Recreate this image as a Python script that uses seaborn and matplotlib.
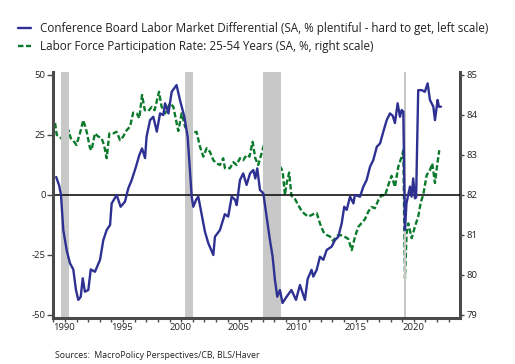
import matplotlib
matplotlib.use("Agg")
import matplotlib.pyplot as plt
from matplotlib.lines import Line2D
import seaborn as sns
import pandas as pd

# Conference Board labor market differential (left scale)
diff_year = [1990.25, 1990.5, 1990.66, 1990.86, 1991.15, 1991.43, 1991.72, 1991.95, 1992.15, 1992.36,
             1992.53, 1992.72, 1993.01, 1993.22, 1993.58, 1994.02, 1994.3, 1994.59, 1994.88, 1995.02,
             1995.45, 1995.79, 1996.16, 1996.45, 1996.74, 1997.11, 1997.4, 1997.63, 1997.89, 1998.02,
             1998.32, 1998.6, 1998.9, 1999.18, 1999.46, 1999.61, 1999.9, 2000.18, 2000.6, 2000.89,
             2001.27, 2001.55, 2001.75, 2001.9, 2002.04, 2002.28, 2002.47, 2002.77, 2003.04, 2003.33,
             2003.76, 2003.9, 2004.33, 2004.75, 2005.04, 2005.34, 2005.63, 2005.77, 2006.05, 2006.33,
             2006.62, 2006.92, 2007.2, 2007.37, 2007.54, 2007.77, 2008.06, 2008.34, 2008.63, 2008.86,
             2009.06, 2009.26, 2009.49, 2009.71, 2010.06, 2010.48, 2010.87, 2011.21, 2011.64, 2011.87,
             2012.21, 2012.36, 2012.65, 2012.93, 2013.22, 2013.51, 2013.94, 2014.22, 2014.51, 2014.8,
             2015.02, 2015.23, 2015.52, 2015.81, 2015.93, 2016.38, 2016.66, 2016.94, 2017.24, 2017.52,
             2017.82, 2018.1, 2018.38, 2018.67, 2018.95, 2019.19, 2019.38, 2019.61, 2019.81, 2019.96,
             2020.1, 2020.24, 2020.37, 2020.67, 2020.81, 2020.95, 2021.1, 2021.2, 2021.38, 2021.68,
             2021.95, 2022.19, 2022.39, 2022.68, 2022.82, 2023.05, 2023.16, 2023.34]
diff_val = [7.5, 4, 0, -14.6, -23, -28.4, -31, -39.6, -43.7, -42.4,
            -34.7, -40.3, -39.6, -31, -32, -27, -18.8, -14.6, -12.5, -3.5,
            0, -4.9, -2.8, 2.8, 6.2, 11.8, 16.7, 19.4, 15.4, 24.3,
            31.2, 32.6, 26.4, 34, 33.3, 38.2, 34, 43, 45.8, 39.6,
            32.6, 24.3, 10.4, -0.7, -4.9, -2, -0.7, -8.3, -15.3, -20.1,
            -25, -17.4, -14.6, -8, -9, -0.7, -2, -4.2, 6.2, 9,
            4.2, 9, 10.4, 6.9, 11.1, 2.1, 0.7, -9, -18.8, -25.7,
            -35.4, -42.4, -39.6, -45, -42.4, -39.6, -43.7, -37.5, -43.7, -35,
            -31.2, -34, -31.2, -25.7, -27, -22.9, -21.5, -18.8, -17.4, -11.8,
            -4.9, -6.2, -0.7, -3.5, 0, -0.7, 3.5, 6.2, 11.8, 14.6,
            20.1, 21.5, 26.4, 31.2, 34, 33, 30, 38.2, 32.6, 35.4,
            34.7, -14.6, -3.5, 3.5, -0.7, 6.9, -1.4, -1, 43.7, 43.7,
            43, 46.5, 39.6, 36.8, 31.2, 39.6, 36.8, 36.8]

# Prime-age labor force participation rate (right scale)
lfpr_year = [1990.15, 1990.3, 1990.57, 1990.8, 1991.1, 1991.3, 1991.5, 1991.69, 1991.99, 1992.29,
             1992.58, 1992.87, 1993.16, 1993.29, 1993.58, 1993.87, 1994.15, 1994.36, 1994.59, 1994.82,
             1995.15, 1995.45, 1995.74, 1996.01, 1996.31, 1996.6, 1996.87, 1997.17, 1997.4, 1997.63,
             1997.87, 1998.17, 1998.46, 1998.71, 1999.09, 1999.31, 1999.61, 2000.03, 2000.32, 2000.61,
             2000.75, 2001.04, 2001.33, 2001.6, 2002.04, 2002.32, 2002.61, 2002.9, 2003.19, 2003.47,
             2003.76, 2004.04, 2004.33, 2004.61, 2004.76, 2005.19, 2005.48, 2005.76, 2006.05, 2006.33,
             2006.62, 2006.87, 2007.14, 2007.37, 2007.62, 2007.91, 2008.11, 2008.38, 2008.63, 2008.92,
             2009.2, 2009.49, 2009.72, 2009.92, 2010.07, 2010.28, 2010.48, 2010.78, 2011.06, 2011.35,
             2011.64, 2011.93, 2012.36, 2012.65, 2012.93, 2013.22, 2013.51, 2013.8, 2014.07, 2014.37,
             2014.64, 2014.93, 2015.37, 2015.66, 2015.94, 2016.22, 2016.52, 2016.81, 2017.08, 2017.36,
             2017.66, 2017.95, 2018.25, 2018.52, 2018.81, 2019.09, 2019.38, 2019.67, 2019.96, 2020.1,
             2020.24, 2020.38, 2020.53, 2020.82, 2021.1, 2021.38, 2021.61, 2021.81, 2022.11, 2022.39,
             2022.59, 2022.82, 2022.99, 2023.19]
lfpr_val = [83.8, 83.5, 83.46, 83.37, 83.21, 83.62, 83.42, 83.37, 83.25, 83.54,
            83.87, 83.58, 83.17, 83.12, 83.54, 83.46, 83.42, 83.25, 82.92, 83.54,
            83.54, 83.58, 83.37, 83.46, 83.62, 83.71, 84.06, 84.04, 83.92, 84.5,
            84.12, 84.1, 84.2, 84.12, 84.58, 84.21, 84.04, 84.29, 84.21, 83.79,
            83.6, 84.04, 83.71, 83.55, 83.56, 83.58, 83.21, 82.96, 83.17, 83.08,
            82.87, 82.79, 82.75, 82.92, 82.67, 82.67, 82.82, 82.75, 82.92, 82.87,
            83.0, 82.96, 83.33, 82.92, 82.75, 83.04, 83.25, 83.2, 83.1, 82.95,
            82.85, 82.72, 82.6, 82.0, 82.3, 82.56, 81.98, 81.9, 81.75, 81.6,
            81.52, 81.46, 81.52, 81.55, 81.29, 81.08, 81.0, 80.96, 80.85, 80.98,
            81.0, 80.98, 80.9, 80.62, 80.95, 81.2, 81.3, 81.4, 81.58, 81.7,
            81.67, 81.87, 82.0, 81.98, 82.25, 82.48, 82.2, 82.71, 82.96, 83.12,
            79.92, 81.04, 81.29, 80.92, 81.21, 81.46, 81.83, 82.0, 82.5, 82.62,
            82.79, 82.3, 82.7, 83.12]

rec_start = [1990.66, 2001.32, 2008.03, 2020.13]
rec_end = [1991.35, 2001.98, 2009.55, 2020.3]

left_ticks = [-50, -25, 0, 25, 50]
right_ticks = [79, 80, 81, 82, 83, 84, 85]
year_labels = [1990, 1995, 2000, 2005, 2010, 2015, 2020]

label_diff = "Conference Board Labor Market Differential (SA, % plentiful - hard to get, left scale)"
label_lfpr = "Labor Force Participation Rate: 25-54 Years (SA, %, right scale)"

blue = "#2e3192"
green = "#0b7a2c"
spine_col = "#4a4a4a"
text_col = "#222222"

sns.set_style("white")
plt.rcParams["font.family"] = ["Open Sans", "DejaVu Sans"]

diff = pd.DataFrame({"year": diff_year, "value": diff_val})
lfpr = pd.DataFrame({"year": lfpr_year, "value": lfpr_val})

fig = plt.figure(figsize=(5.15, 3.64), dpi=100)
ax = fig.add_axes([0.1035, 0.1264, 0.7903, 0.6758])
ax2 = ax.twinx()

for s, e in zip(rec_start, rec_end):
    ax.axvspan(s, e, color="#c8c8c8", lw=0, zorder=0)
ax.axhline(0, color="black", lw=1.1, zorder=1)

sns.lineplot(data=diff, x="year", y="value", ax=ax, color=blue, lw=1.7, zorder=3)
sns.lineplot(data=lfpr, x="year", y="value", ax=ax2, color=green, lw=1.7,
             linestyle=(0, (2.3, 1.1)), zorder=2)

ax.set_xlim(1990, 2025)
ax.set_ylim(-51.25, 51.25)
ax2.set_ylim(78.925, 85.075)
ax.set_xlabel("")
ax.set_ylabel("")
ax2.set_ylabel("")

ax.set_yticks(left_ticks)
ax.set_yticklabels([str(t) for t in left_ticks])
ax2.set_yticks(right_ticks)
ax2.set_yticklabels([str(t) for t in right_ticks])
ax.set_xticks(year_labels)
ax.set_xticklabels([str(y) for y in year_labels], ha="left")
ax.set_xticks(range(1990, 2025), minor=True)

ax.tick_params(axis="y", direction="out", length=4, width=1, color=spine_col,
               labelsize=6.8, pad=1.5, left=True, labelcolor=text_col)
ax.tick_params(axis="x", which="both", direction="out", length=3, width=1,
               color=spine_col, labelsize=6.8, pad=0.5, bottom=True, labelcolor=text_col)
ax2.tick_params(axis="y", direction="out", length=3, width=1, color=spine_col,
                labelsize=6.8, pad=1.5, right=True, labelcolor=text_col)

for a in (ax, ax2):
    for side in ("left", "right", "bottom", "top"):
        a.spines[side].set_visible(False)
ax.spines["left"].set_visible(True)
ax.spines["bottom"].set_visible(True)
ax2.spines["right"].set_visible(True)
for sp in (ax.spines["left"], ax.spines["bottom"], ax2.spines["right"]):
    sp.set_color(spine_col)
    sp.set_linewidth(2.2)

ax.set_zorder(ax2.get_zorder() + 1)
ax.patch.set_visible(False)

handles = [Line2D([], [], color=blue, lw=1.7),
           Line2D([], [], color=green, lw=1.7, linestyle=(0, (2.3, 1.1)))]
fig.legend(handles, [label_diff, label_lfpr], loc="upper left",
           bbox_to_anchor=(18 / 515, 1 - 22 / 364), frameon=False, fontsize=8.4,
           handlelength=1.1, handletextpad=0.75, labelspacing=0.42,
           borderpad=0, borderaxespad=0, labelcolor=text_col)

fig.text(55 / 515, 1 - 355 / 364, "Sources:  MacroPolicy Perspectives/CB, BLS/Haver",
         fontsize=6.3, color=text_col, va="center", ha="left")

fig.savefig("out.png", dpi=100)
